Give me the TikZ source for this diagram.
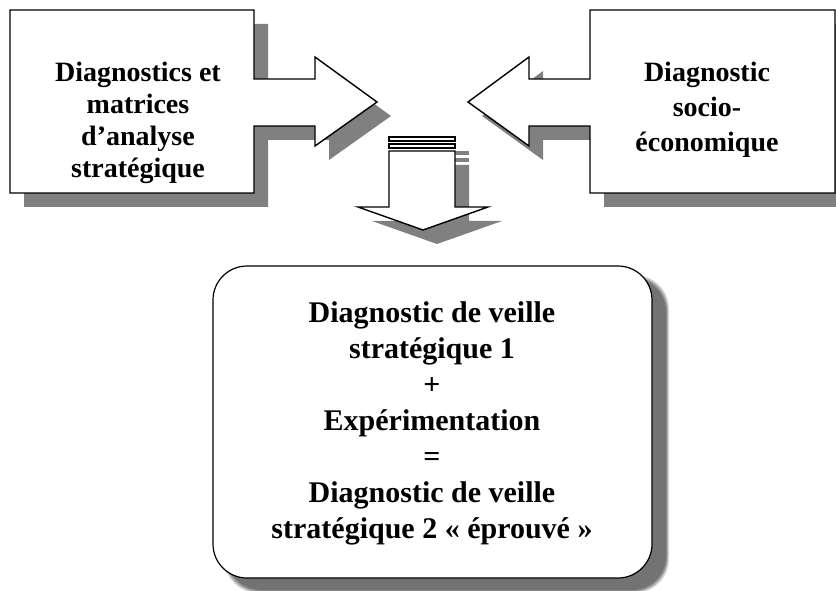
\documentclass[tikz,border=0pt]{standalone}
\usepackage{fontspec}
\setmainfont{Liberation Serif}

% Outline of the left callout box with its right-pointing arrow
\newcommand\drawLeftCallout[1]{%
  \path[#1] (10,10) -- (254,10) -- (254,79) -- (315,79) -- (315,57) -- (377,102)
    -- (315,146) -- (315,126) -- (254,126) -- (254,193) -- (10,193) -- cycle;}
% Outline of the right callout box with its left-pointing arrow
\newcommand\drawRightCallout[1]{%
  \path[#1] (835,10) -- (590,10) -- (590,79) -- (529,79) -- (529,57) -- (468,102)
    -- (529,146) -- (529,126) -- (590,126) -- (590,193) -- (835,193) -- cycle;}
% Striped down arrow: two thin bars above the arrow body
\newcommand\drawDownArrow[1]{%
  \path[#1] (389,137) rectangle (455,141);
  \path[#1] (389,144) rectangle (455,148);
  \path[#1] (389,151) -- (455,151) -- (455,207) -- (488,207) -- (423,230)
    -- (358,207) -- (389,207) -- cycle;}

\begin{document}
\begin{tikzpicture}[x=1pt,y=-1pt,
  shadowfill/.style={fill=black!50, draw=none},
  shapeline/.style={draw=black, fill=white, line width=1.4pt, line join=miter},
  boxlabel/.style={font=\bfseries\fontsize{28}{32}\selectfont, align=center, inner sep=0pt},
  resultlabel/.style={font=\bfseries\fontsize{30}{36}\selectfont, align=center, inner sep=0pt}]
\useasboundingbox (0,0) rectangle (836,591);
\clip (0,0) rectangle (836,591);

% drop shadows
\drawLeftCallout{shadowfill, shift={(14,14)}}
\drawRightCallout{shadowfill, shift={(14,14)}}
\drawDownArrow{shadowfill, shift={(14,14)}}

% soft shadow of the result box
\foreach \g/\e in {15/3, 30/2, 45/1, 55/0}{
  \fill[black!\g, rounded corners=34] (227-\e,278-\e) rectangle (666+\e,590+\e);
}

% shapes
\drawLeftCallout{shapeline}
\drawRightCallout{shapeline}
\drawDownArrow{shapeline}
\draw[shapeline, line width=1.2pt, rounded corners=34] (213,266) rectangle (652,578);

% texts
\node[boxlabel] (leftText) at (138,123)
  {Diagnostics et\\matrices\\d’analyse\\stratégique};
\node[boxlabel, font=\bfseries\fontsize{28}{35}\selectfont] (rightText) at (707,110)
  {Diagnostic\\socio-\\économique};
\node[resultlabel] (resultText) at (432,423)
  {Diagnostic de veille\\stratégique 1\\+\\Expérimentation\\=\\Diagnostic de veille\\stratégique 2 « éprouvé »};
\end{tikzpicture}
\end{document}
